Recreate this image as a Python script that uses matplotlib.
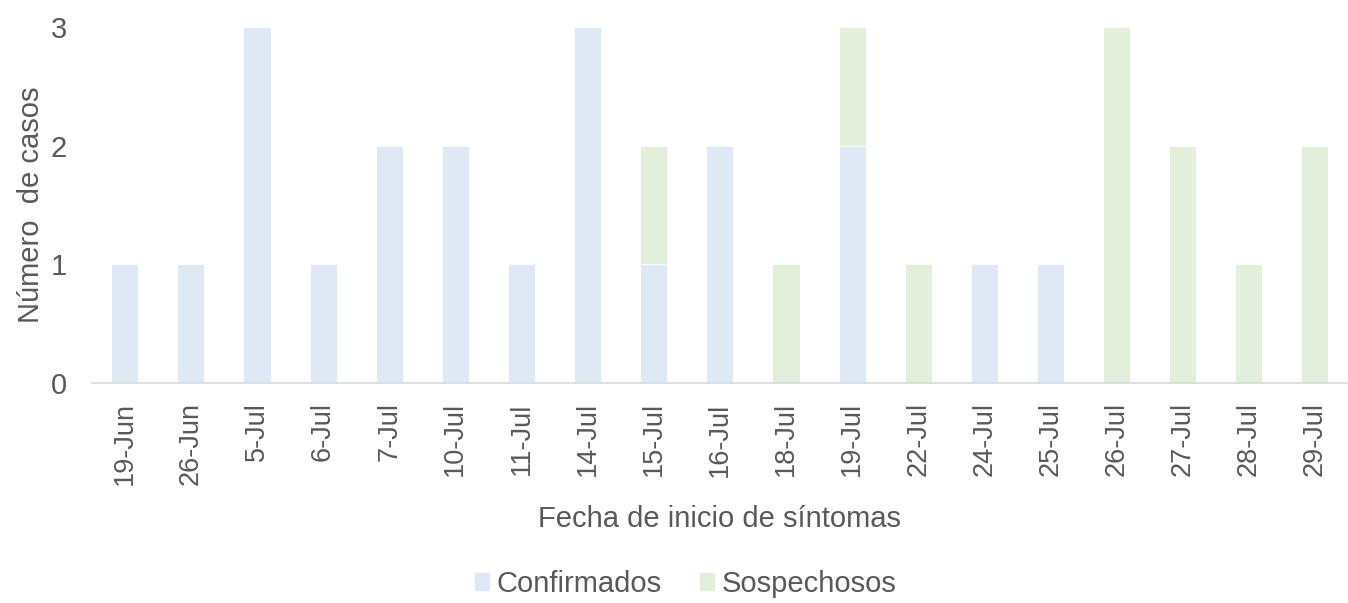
import numpy as np
import matplotlib.pyplot as plt
from matplotlib.patches import Patch

plt.rcParams["font.family"] = ["Liberation Sans", "DejaVu Sans"]

# data
fechas = ["19-Jun", "26-Jun", "5-Jul", "6-Jul", "7-Jul", "10-Jul", "11-Jul",
          "14-Jul", "15-Jul", "16-Jul", "18-Jul", "19-Jul", "22-Jul", "24-Jul",
          "25-Jul", "26-Jul", "27-Jul", "28-Jul", "29-Jul"]
confirmados = [1, 1, 3, 1, 2, 2, 1, 3, 1, 2, 0, 2, 0, 1, 1, 0, 0, 0, 0]
sospechosos = [0, 0, 0, 0, 0, 0, 0, 0, 1, 0, 1, 1, 1, 0, 0, 3, 2, 1, 2]

c_conf = "#DEE9F5"
c_sosp = "#E2EFDA"
txt = "#595959"

fig = plt.figure(figsize=(13.48, 6.03), dpi=100)
ax = fig.add_axes([0.068, 0.365, 0.932, 0.59])

x = np.arange(len(fechas))
w = 0.41
ax.bar(x, confirmados, w, color=c_conf, edgecolor="white", linewidth=0.6)
ax.bar(x, sospechosos, w, bottom=confirmados, color=c_sosp,
       edgecolor="white", linewidth=0.6)

ax.set_xlim(-0.5, len(fechas) - 0.5)
ax.set_ylim(0, 3)
ax.set_yticks([0, 1, 2, 3])
ax.set_xticks(x)
ax.set_xticklabels(fechas, rotation=90)
ax.tick_params(axis="both", length=0, colors=txt)
ax.tick_params(axis="x", pad=14, labelsize=19.5)
ax.tick_params(axis="y", pad=18, labelsize=21)

for s in ["top", "right", "left"]:
    ax.spines[s].set_visible(False)
ax.spines["bottom"].set_color("#D9D9D9")
ax.spines["bottom"].set_linewidth(1.2)

ax.set_ylabel("Número  de casos", fontsize=21, color=txt, labelpad=4)
ax.set_xlabel("Fecha de inicio de síntomas", fontsize=21, color=txt, labelpad=14)

handles = [Patch(color=c_conf, label="Confirmados"),
           Patch(color=c_sosp, label="Sospechosos")]
fig.legend(handles=handles, loc="lower center", bbox_to_anchor=(0.5085, -0.035),
           ncol=2, frameon=False, fontsize=21, labelcolor=txt,
           handlelength=0.5, handleheight=0.5, handletextpad=0.25,
           columnspacing=1.3)

fig.savefig("out.png", dpi=100)
